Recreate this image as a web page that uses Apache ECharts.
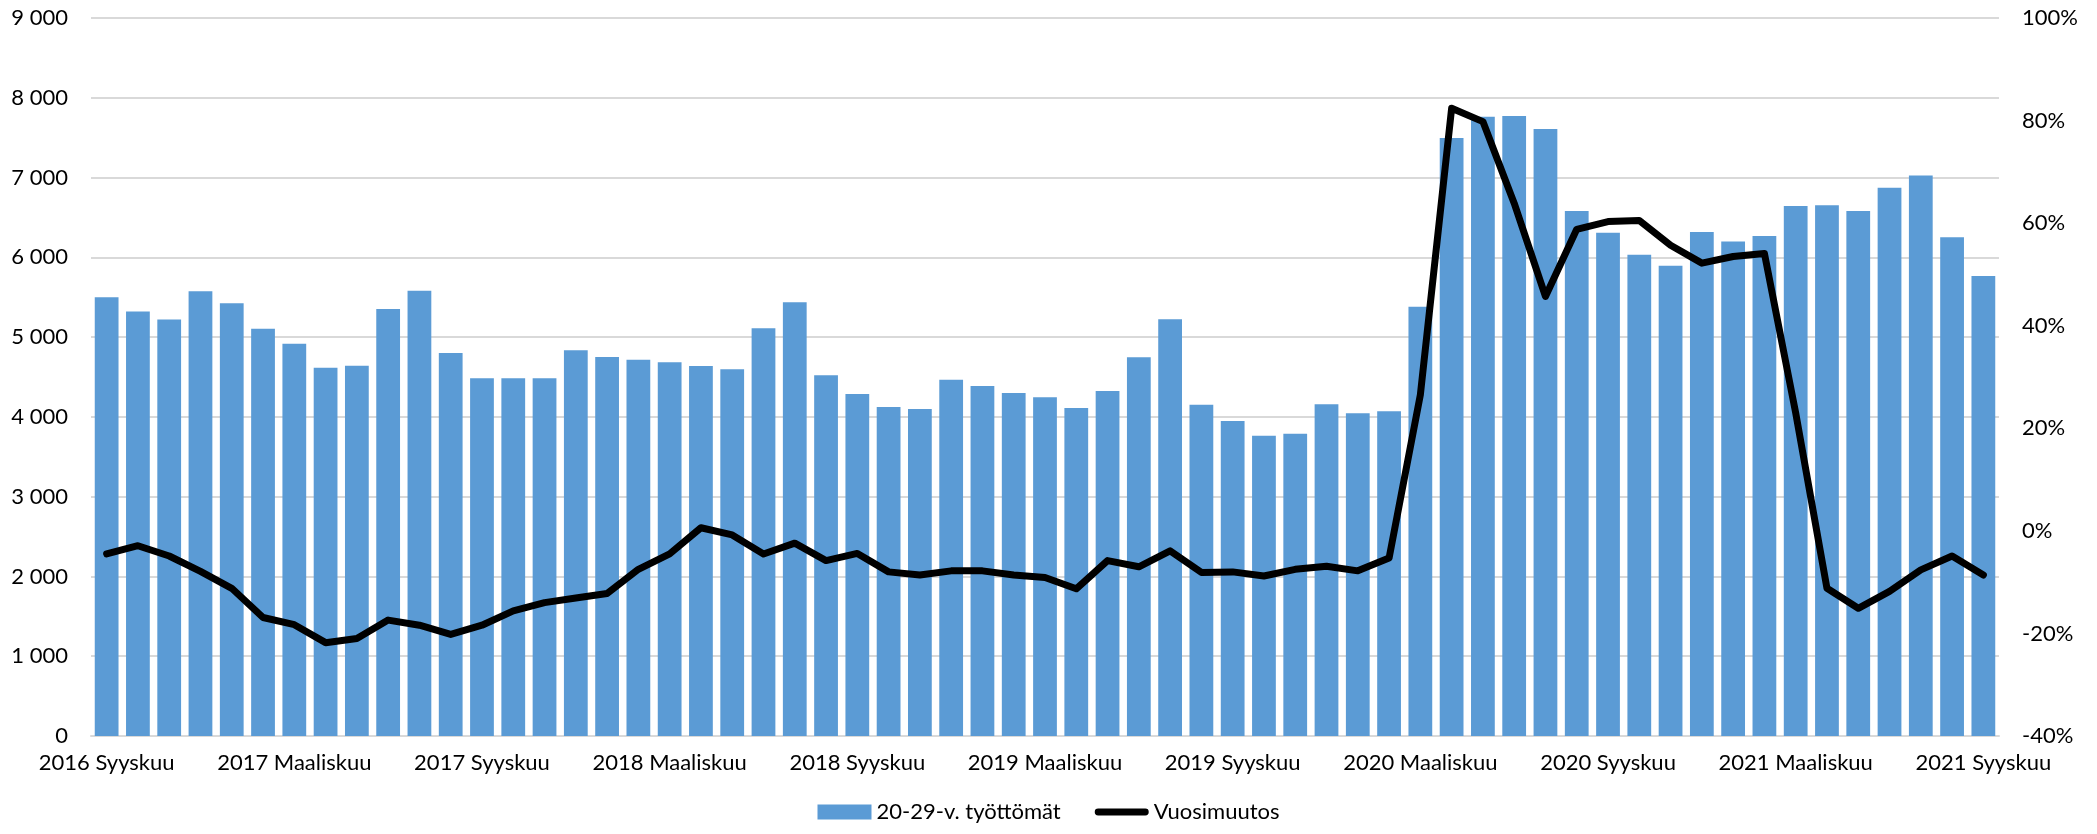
<!DOCTYPE html>
<html>
<head>
<meta charset="utf-8">
<script src="https://cdn.jsdelivr.net/npm/echarts@6/dist/echarts.min.js"></script>
<style>
    html, body { margin: 0; padding: 0; background: #fff; }
    #chart { width: 2097px; height: 834px; }
</style>
</head>
<body>
<div id="chart"></div>
<script>
// kuukaudet 2016 syyskuu - 2021 syyskuu
var months = ['Tammikuu', 'Helmikuu', 'Maaliskuu', 'Huhtikuu', 'Toukokuu', 'Kesäkuu',
    'Heinäkuu', 'Elokuu', 'Syyskuu', 'Lokakuu', 'Marraskuu', 'Joulukuu'];
var categories = [];
for (var i = 0; i < 61; i++) {
    var m = (8 + i) % 12;
    var y = 2016 + Math.floor((8 + i) / 12);
    categories.push(y + ' ' + months[m]);
}

// 20-29-v. työttömät
var unemployed = [
    5500, 5320, 5220, 5575, 5425, 5105, 4918, 4617, 4642, 5352,
    5582, 4800, 4483, 4483, 4483, 4835, 4751, 4717, 4684, 4638,
    4596, 5110, 5436, 4521, 4287, 4124, 4099, 4466, 4387, 4299,
    4245, 4111, 4324, 4747, 5223, 4153, 3948, 3764, 3789, 4157,
    4045, 4070, 5381, 7496, 7763, 7771, 7608, 6581, 6309, 6033,
    5895, 6317, 6200, 6267, 6643, 6652, 6581, 6873, 7027, 6251,
    5766
];

// Vuosimuutos, %
var yearChange = [
    -4.5, -2.9, -4.9, -7.9, -11.2, -16.9, -18.3, -21.8, -21.0, -17.4,
    -18.4, -20.2, -18.4, -15.6, -14.0, -13.1, -12.2, -7.5, -4.5, 0.6,
    -0.8, -4.5, -2.4, -5.8, -4.4, -8.0, -8.6, -7.8, -7.8, -8.6,
    -9.1, -11.3, -5.8, -7.0, -3.9, -8.1, -8.0, -8.8, -7.5, -6.9,
    -7.8, -5.3, 26.5, 82.4, 79.8, 63.9, 45.7, 58.8, 60.3, 60.5,
    55.7, 52.2, 53.5, 54.1, 23.0, -11.2, -15.1, -11.8, -7.6, -4.9,
    -8.6
];

var labelFont = {
    color: '#000',
    fontFamily: 'Lato',
    fontSize: 22
};

function thousands(v) {
    return String(v).replace(/\B(?=(\d{3})+(?!\d))/g, ' ');
}

var chart = echarts.init(document.getElementById('chart'));

var option = {
    animation: false,
    backgroundColor: '#fff',
    textStyle: labelFont,
    grid: {
        left: 91,
        right: 98,
        top: 18,
        bottom: 98,
        containLabel: false
    },
    legend: {
        bottom: 6,
        left: 'center',
        itemGap: 34,
        itemWidth: 54,
        itemHeight: 15,
        textStyle: labelFont,
        data: [
            {name: '20-29-v. työttömät', icon: 'rect'},
            {name: 'Vuosimuutos', icon: 'path://M3,0 L51,0 A3.5,3.5 0 0 1 51,7 L3,7 A3.5,3.5 0 0 1 3,0 Z'}
        ]
    },
    xAxis: {
        type: 'category',
        data: categories,
        axisTick: {show: false},
        axisLine: {lineStyle: {color: '#d9d9d9', width: 2}},
        axisLabel: Object.assign({}, labelFont, {interval: 5, margin: 16})
    },
    yAxis: [
        {
            type: 'value',
            min: 0,
            max: 9000,
            interval: 1000,
            axisLine: {show: false},
            axisTick: {show: false},
            splitLine: {lineStyle: {color: '#d9d9d9', width: 2}},
            axisLabel: Object.assign({}, labelFont, {margin: 23, formatter: thousands})
        },
        {
            type: 'value',
            min: -40,
            max: 100,
            interval: 20,
            axisLine: {show: false},
            axisTick: {show: false},
            splitLine: {show: false},
            axisLabel: Object.assign({}, labelFont, {margin: 23, formatter: '{value}%'})
        }
    ],
    series: [
        {
            name: '20-29-v. työttömät',
            type: 'bar',
            data: unemployed,
            barCategoryGap: '24%',
            itemStyle: {color: '#5b9bd5'}
        },
        {
            name: 'Vuosimuutos',
            type: 'line',
            yAxisIndex: 1,
            data: yearChange,
            symbol: 'none',
            showSymbol: false,
            lineStyle: {color: '#000', width: 7, join: 'round', cap: 'round'},
            itemStyle: {color: '#000'}
        }
    ]
};

chart.setOption(option);
</script>
</body>
</html>
